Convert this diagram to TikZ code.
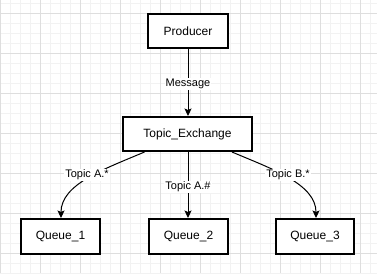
\documentclass[tikz,border=0pt]{standalone}
\usepackage{fontspec}
\setmainfont{Liberation Sans}
\usetikzlibrary{arrows.meta,calc}
\definecolor{minorgrid}{RGB}{242,242,242}
\definecolor{majorgrid}{RGB}{222,222,222}
\tikzset{
  box/.style={draw=black, line width=2pt, fill=white, minimum height=34pt, inner sep=0pt, font=\fontsize{12pt}{14pt}\selectfont},
  conn/.style={draw=black, line width=1pt, -{Stealth[length=7.5pt,width=7pt,inset=1.5pt]}},
  lbl/.style={fill=white, inner sep=1pt, font=\fontsize{11pt}{13pt}\selectfont}
}
\begin{document}
\begin{tikzpicture}[x=1pt,y=-1pt]
\useasboundingbox (0,0) rectangle (377,273);
% grid
\foreach \x in {0,10,...,370} \draw[minorgrid, line width=0.8pt] (\x,0) -- (\x,273);
\foreach \y in {3,13,...,273} \draw[minorgrid, line width=0.8pt] (0,\y) -- (377,\y);
\foreach \x in {0,40,...,360} \draw[majorgrid, line width=0.8pt] (\x,0) -- (\x,273);
\foreach \y in {13,53,...,253} \draw[majorgrid, line width=0.8pt] (0,\y) -- (377,\y);
% nodes
\node[box, minimum width=80pt] (prod) at (188,31) {Producer};
\node[box, minimum width=129pt] (tx) at (187.5,134) {Topic\_Exchange};
\node[box, minimum width=79pt, minimum height=35pt] (q1) at (60.5,236.5) {Queue\_1};
\node[box, minimum width=79pt, minimum height=35pt] (q2) at (188.5,236.5) {Queue\_2};
\node[box, minimum width=78pt, minimum height=35pt] (q3) at (315,236.5) {Queue\_3};
\coordinate (s1) at ([xshift=-43pt]tx.south);
\coordinate (s3) at ([xshift=44.5pt]tx.south);
\coordinate (s2) at ([xshift=0.5pt]tx.south);
\coordinate (e1) at ([xshift=0.5pt]q1.north);
\coordinate (e3) at ([xshift=1pt]q3.north);
% connectors
\draw[conn] (prod.south) -- (prod.south |- tx.north) node[lbl, pos=0.52] {Message};
\draw[conn] (s2) -- (s2 |- q2.north) node[lbl, pos=0.53] {Topic A.\#};
\draw[conn] (s1) .. controls ($(s1)+(-40,17)$) and ($(e1)+(0,-34)$) .. (e1);
\draw[conn] (s3) .. controls ($(s3)+(40,17)$) and ($(e3)+(0,-34)$) .. (e3);
\node[lbl] (l1) at (87,175) {Topic A.*};
\node[lbl] (l3) at (288,175) {Topic B.*};
\end{tikzpicture}
\end{document}
